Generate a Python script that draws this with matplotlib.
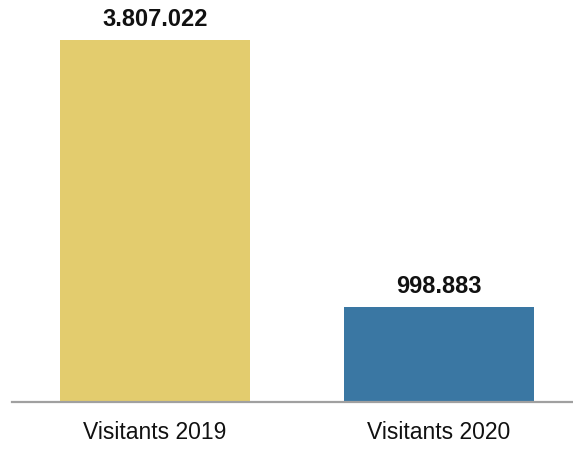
import matplotlib
matplotlib.use("Agg")
import matplotlib.pyplot as plt

categories = ["Visitants 2019", "Visitants 2020"]
values = [3807022, 998883]
value_labels = ["3.807.022", "998.883"]
colors = ["#E3CC6E", "#3A77A3"]

plt.rcParams["font.family"] = ["Liberation Sans", "DejaVu Sans"]

fig = plt.figure(figsize=(5.73, 4.54), dpi=100)
ax = fig.add_axes([12 / 573, 52 / 454, 1 - 12 / 573, 402 / 454])

x = list(range(len(categories)))
bars = ax.bar(x, values, width=0.669, color=colors)

for b, lab in zip(bars, value_labels):
    ax.annotate(lab, (b.get_x() + b.get_width() / 2, b.get_height()),
                xytext=(0, 6.5), textcoords="offset points",
                ha="center", va="bottom", fontsize=17, fontweight="bold",
                color="#111111")

ax.set_xlim(-0.5035, 1.472)
ax.set_ylim(0, max(values) * 402 / 362)
ax.set_xticks(x)
ax.set_xticklabels(categories, fontsize=16.5, color="#111111")
ax.tick_params(axis="x", length=0, pad=14)
ax.set_yticks([])

for s in ["top", "right", "left"]:
    ax.spines[s].set_visible(False)
ax.spines["bottom"].set_color("#A0A0A0")
ax.spines["bottom"].set_linewidth(1.6)

fig.savefig("out.png", dpi=100)
